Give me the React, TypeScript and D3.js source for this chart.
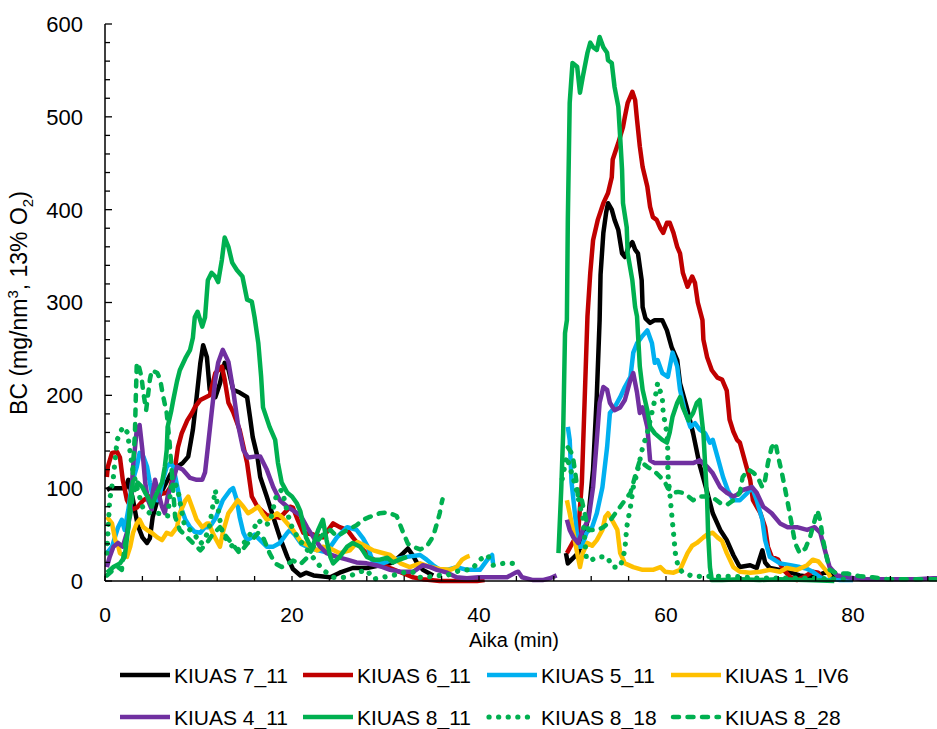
import React from 'react';
import * as d3 from 'd3';

type Pt = [number, number];

// ---- data: [time (min), BC (mg/nm3)] ----
const k7_11_a: Pt[] = [[0.2,98],[0.5,100],[1.5,100],[2.2,100],[2.5,109],[3.0,87],[3.5,60],[4.0,47],[4.5,41],[4.8,46],[5.1,69],[5.6,87],[6.3,101],[7.0,115],[7.7,123],[8.3,127],[8.9,134],[9.4,163],[9.8,198],[10.2,235],[10.5,254],[10.9,241],[11.2,206],[11.8,198],[12.3,213],[12.8,235],[13.2,228],[13.7,206],[14.4,203],[15.2,198],[15.5,177],[15.8,155],[16.3,134],[16.6,112],[17.3,91],[18.0,69],[18.7,47],[19.5,26],[20.1,13],[20.9,6],[21.5,9],[22.3,6],[24.1,4],[25.1,9],[26.5,14],[28.0,14],[29.4,17],[30.8,20],[31.9,30],[32.4,35],[32.9,28],[33.4,19],[34.0,12],[35.1,6]];
const k7_11_b: Pt[] = [[49.3,30],[49.5,19],[50.6,30],[51.1,44],[51.7,69],[52.2,120],[52.6,200],[52.9,281],[53.0,330],[53.3,375],[53.6,397],[53.8,407],[54.2,400],[54.5,389],[54.9,378],[55.3,353],[55.6,349],[56.0,360],[56.4,365],[56.7,357],[57.0,353],[57.4,324],[57.5,295],[57.8,283],[58.3,278],[58.8,281],[59.6,281],[60.1,270],[60.6,252],[61.2,238],[61.5,213],[62.3,184],[62.9,159],[63.6,125],[64.4,96],[65.0,73],[65.8,55],[66.5,44],[67.2,28],[67.9,15],[69.0,17],[69.7,14],[70.3,33],[70.6,20],[71.1,14],[72.2,12],[73.0,10],[74.3,6],[75.7,4],[77.2,10],[77.9,4],[79.0,2]];

const k6_11_a: Pt[] = [[0.2,112],[0.3,123],[0.75,138],[1.3,139],[1.6,133],[1.9,109],[2.35,87],[2.9,77],[3.4,79],[4.1,87],[4.8,91],[5.6,93],[6.6,95],[7.0,101],[7.5,123],[7.8,144],[8.2,159],[8.8,173],[9.3,181],[9.6,187],[10.2,195],[11.2,200],[11.8,224],[12.5,231],[12.8,217],[13.2,192],[13.7,182],[14.4,163],[15.2,127],[15.7,91],[16.3,80],[17.3,71],[18.7,68],[19.8,80],[20.1,79],[20.6,66],[21.2,52],[22.3,50],[23.3,47],[24.4,62],[25.1,58],[25.9,55],[26.5,47],[27.3,37],[28.3,26],[29.4,19],[30.5,14],[32.9,4],[34.0,2],[35.8,0],[37.9,0],[39.8,0],[40.6,1]];
const k6_11_b: Pt[] = [[49.4,30],[50.6,52],[51.0,106],[51.3,195],[51.6,285],[51.9,332],[52.2,367],[52.7,389],[53.3,407],[53.8,418],[54.2,435],[54.3,454],[54.9,472],[55.4,489],[55.6,500],[55.9,515],[56.4,527],[56.7,518],[56.9,497],[57.2,468],[57.5,446],[58.0,425],[58.3,403],[58.6,392],[59.0,389],[59.4,380],[59.7,375],[60.1,386],[60.4,386],[60.8,375],[61.2,360],[61.5,353],[61.8,332],[62.3,317],[62.8,328],[63.1,321],[63.4,300],[63.9,281],[64.0,260],[64.4,241],[64.9,227],[65.5,219],[66.0,217],[66.5,205],[66.8,174],[67.2,161],[67.6,152],[67.9,149],[68.5,127],[69.0,109],[69.3,87],[70.1,73],[70.6,58],[70.9,37],[71.3,26],[72.0,23],[72.5,13],[73.3,4],[74.0,1],[74.7,4],[75.7,10],[76.3,9],[76.7,1]];

const k5_11_a: Pt[] = [[0.2,30],[0.75,37],[1.4,58],[1.8,66],[2.1,55],[2.5,77],[2.9,106],[3.4,123],[3.7,138],[4.1,134],[4.5,123],[4.8,106],[5.1,91],[5.6,87],[5.9,95],[6.2,109],[6.6,123],[7.0,127],[7.3,123],[7.8,98],[8.2,77],[8.6,66],[9.1,58],[9.6,53],[10.2,52],[10.7,58],[11.2,58],[11.9,69],[12.6,87],[13.4,98],[13.7,100],[14.1,87],[14.4,69],[14.8,52],[15.2,44],[15.7,47],[16.0,50],[16.6,44],[17.3,37],[18.0,37],[18.7,41],[19.5,52],[19.8,55],[20.3,50],[21.0,40],[22.0,35],[23.7,31],[24.8,47],[25.9,58],[26.9,55],[27.6,46],[28.1,37],[28.7,19],[29.7,19],[30.8,23],[32.3,26],[33.7,28],[34.4,23],[35.1,17],[35.8,12],[36.6,12],[37.6,15],[38.7,12],[40.1,12],[40.9,23],[41.4,28],[41.5,19]];
const k5_11_b: Pt[] = [[49.5,166],[49.7,152],[49.9,106],[50.3,69],[50.6,37],[51.0,37],[51.5,52],[52.1,58],[52.6,73],[53.2,101],[53.7,144],[54.0,181],[54.5,187],[55.1,198],[55.6,209],[56.2,220],[56.5,246],[56.9,256],[57.4,263],[58.0,270],[58.5,256],[58.8,235],[59.1,238],[59.6,224],[60.2,220],[60.7,246],[61.2,231],[61.5,206],[62.0,184],[62.6,166],[63.1,170],[63.6,163],[64.2,159],[64.7,149],[65.0,152],[65.5,134],[66.1,112],[66.6,98],[67.2,87],[67.9,87],[68.7,95],[69.2,101],[69.7,87],[70.3,66],[70.6,44],[71.1,26],[72.2,19],[73.3,17],[74.3,15],[75.1,13],[75.7,10],[76.5,4],[77.2,1],[77.9,2],[78.6,1],[80.0,1]];

const k1_IV6_a: Pt[] = [[0.2,69],[0.75,62],[1.1,44],[1.4,38],[1.6,30],[2.35,26],[2.7,37],[3.0,52],[3.4,62],[3.7,66],[4.1,58],[4.5,55],[5.0,52],[5.6,47],[6.1,44],[6.6,52],[7.1,50],[7.7,58],[8.0,73],[8.6,87],[8.9,91],[9.3,80],[9.8,66],[10.4,58],[10.9,62],[11.1,62],[11.6,50],[12.3,37],[12.6,52],[13.2,73],[13.7,80],[14.2,87],[14.8,80],[15.3,73],[15.8,76],[16.4,80],[16.8,73],[17.3,66],[17.9,69],[18.4,73],[18.9,69],[19.5,62],[20.1,55],[20.9,43],[21.9,37],[22.7,33],[23.3,37],[24.1,35],[25.1,30],[26.2,33],[27.0,42],[27.6,39],[28.7,33],[29.4,31],[30.5,28],[31.6,19],[32.6,15],[33.7,19],[34.8,15],[35.8,13],[36.9,12],[37.6,15],[38.2,23],[38.7,26],[39.0,27]];
const k1_IV6_b: Pt[] = [[49.4,87],[49.7,73],[50.1,52],[50.5,30],[50.8,15],[51.1,30],[51.6,41],[52.1,38],[52.6,44],[53.2,55],[53.5,69],[53.8,73],[54.2,66],[54.8,55],[55.1,30],[55.6,19],[56.5,15],[57.5,12],[58.6,12],[59.4,15],[59.9,10],[60.8,9],[61.5,12],[62.3,30],[62.8,38],[63.3,41],[64.0,47],[64.4,50],[65.0,52],[65.5,47],[66.0,43],[66.5,30],[67.2,15],[67.9,10],[69.0,9],[70.1,10],[71.1,12],[72.2,10],[72.9,14],[74.0,12],[75.1,17],[75.7,23],[76.3,21],[76.8,15],[77.3,9],[77.6,4]];

const k4_11_a: Pt[] = [[0.2,15],[0.5,26],[0.9,37],[1.4,41],[1.9,37],[2.35,52],[2.7,73],[3.0,123],[3.4,163],[3.7,168],[4.0,141],[4.3,106],[4.6,87],[5.0,77],[5.1,95],[5.35,109],[5.7,95],[6.1,80],[6.4,73],[6.7,91],[7.2,106],[7.7,123],[8.3,120],[9.1,111],[9.8,109],[10.4,109],[10.7,117],[11.0,144],[11.4,181],[11.8,217],[12.1,235],[12.6,249],[13.2,236],[13.7,206],[14.2,170],[14.8,141],[15.3,133],[16.0,134],[16.6,134],[17.3,120],[18.0,101],[18.7,87],[19.5,80],[20.1,76],[20.9,71],[21.6,58],[22.3,47],[23.0,37],[23.7,30],[24.8,26],[25.9,23],[26.9,20],[28.0,19],[29.0,17],[29.7,15],[30.5,12],[31.6,10],[33.0,10],[34.0,17],[34.8,15],[35.5,12],[36.6,9],[37.6,4],[38.7,3],[40.0,4],[41.5,4],[43.0,4],[43.9,9],[44.2,10],[44.6,4],[45.8,1],[46.8,1],[47.6,3],[48.3,6]];
const k4_11_b: Pt[] = [[49.4,66],[49.7,55],[50.1,47],[50.6,41],[51.1,55],[51.7,66],[52.2,101],[52.6,152],[52.9,192],[53.3,209],[53.7,206],[54.0,192],[54.5,184],[55.1,187],[55.6,195],[56.2,217],[56.5,224],[56.9,203],[57.2,181],[57.5,187],[58.0,166],[58.3,130],[58.8,127],[60.1,127],[61.5,127],[62.9,127],[63.6,130],[64.4,123],[65.0,116],[65.8,101],[66.5,95],[67.2,91],[67.6,93],[68.2,98],[69.2,101],[69.7,95],[70.4,80],[71.3,73],[72.2,62],[73.0,58],[74.0,58],[75.1,55],[75.9,58],[76.5,52],[77.0,33],[77.5,15],[78.3,6],[79.4,4],[80.8,2],[82.1,2],[83.6,2],[85.0,2],[86.8,2],[88.6,3],[89.5,3]];

const k8_11_a: Pt[] = [[0.2,9],[0.9,15],[1.6,19],[2.1,26],[2.5,58],[2.7,87],[2.9,101],[3.2,98],[3.5,106],[4.0,101],[4.3,95],[4.6,90],[5.0,80],[5.35,90],[5.7,98],[6.1,106],[6.4,123],[6.6,141],[6.7,166],[7.1,184],[7.3,195],[7.7,215],[8.0,227],[8.6,240],[9.1,249],[9.4,262],[9.6,284],[9.9,290],[10.4,274],[10.7,284],[11.0,324],[11.4,332],[11.8,328],[12.1,322],[12.5,346],[12.8,370],[13.2,360],[13.6,343],[14.1,335],[14.7,328],[15.2,303],[15.7,301],[16.0,284],[16.4,256],[16.7,220],[16.9,187],[17.6,166],[18.2,152],[18.5,127],[18.9,106],[19.5,95],[20.0,91],[20.5,84],[20.9,75],[21.2,60],[21.5,47],[22.0,37],[22.3,40],[22.8,55],[23.3,66],[23.7,44],[24.1,26],[24.4,19],[25.1,26],[25.9,37],[26.5,41],[27.3,37],[28.0,26],[28.7,23],[29.4,23],[30.2,25],[30.8,20],[31.5,23],[32.3,26]];
const k8_11_b: Pt[] = [[48.5,30],[48.8,100],[49.0,159],[49.2,267],[49.4,281],[49.5,389],[49.7,515],[50.0,558],[50.5,554],[50.8,526],[51.1,543],[51.6,569],[51.9,580],[52.2,575],[52.6,572],[52.9,586],[53.3,575],[53.7,569],[53.8,561],[54.2,558],[54.5,532],[54.9,511],[55.1,478],[55.3,443],[55.4,407],[55.8,381],[55.9,353],[56.4,324],[56.7,295],[56.9,285],[57.2,231],[57.5,206],[58.0,184],[58.3,166],[58.8,159],[59.6,152],[60.1,149],[60.4,160],[60.7,177],[61.2,192],[61.5,198],[61.8,187],[62.4,173],[62.9,181],[63.3,192],[63.6,195],[64.0,159],[64.2,123],[64.4,87],[64.5,52],[64.7,15],[64.9,1],[66.0,1],[68.0,2],[70.0,1],[72.0,2],[75.0,1],[78.0,0]];

const k8_18_a: Pt[] = [[0.2,30],[0.5,87],[0.9,112],[1.3,152],[1.6,159],[1.9,166],[2.4,160],[2.9,123],[3.4,101],[4.1,77],[4.8,73],[5.6,73],[6.2,72],[6.7,70],[7.2,112],[7.8,98],[8.2,75],[8.5,60],[9.1,55],[9.6,50],[10.2,40],[10.7,45],[11.2,60],[11.8,98],[12.0,84],[12.3,65],[12.6,50],[13.4,40],[14.1,32],[14.8,40],[15.5,50],[16.0,58],[16.4,66],[16.9,60],[17.6,62],[18.4,95],[18.9,98],[19.2,87],[19.6,70],[20.1,55],[20.9,43],[22.2,26],[23.3,12],[24.4,4],[25.9,4],[27.0,9],[28.0,12],[28.7,2],[29.7,4],[30.8,6],[31.9,9],[32.9,10],[33.4,4],[34.4,4],[35.5,6],[36.6,6],[37.2,9],[38.2,12],[39.2,12],[40.1,23],[40.9,28],[41.5,17],[42.6,19],[44.1,19]];
const k8_18_b: Pt[] = [[48.9,110],[49.2,125],[49.4,134],[49.7,123],[50.1,110],[50.5,95],[50.8,80],[51.1,69],[51.5,23],[52.1,23],[52.7,26],[53.7,26],[54.3,15],[55.1,15],[55.6,33],[55.8,58],[56.2,80],[56.5,101],[56.9,116],[57.2,130],[57.5,144],[58.0,159],[58.3,173],[58.8,195],[59.1,213],[59.6,198],[59.7,181],[60.1,159],[60.2,138],[60.2,116],[60.4,95],[60.6,73],[60.8,52],[61.0,30],[61.3,15],[61.8,9],[62.9,5],[64.0,5],[65.0,5],[66.0,5],[67.2,5],[70.0,3],[73.0,3],[76.0,3],[79.0,2]];

const k8_28_a: Pt[] = [[0.2,6],[0.9,12],[1.4,15],[1.8,12],[2.1,37],[2.5,58],[2.9,87],[3.0,123],[3.2,159],[3.3,200],[3.4,235],[3.6,232],[3.9,220],[4.1,203],[4.4,184],[4.6,200],[4.8,217],[5.0,227],[5.6,224],[5.9,217],[6.2,200],[6.6,181],[6.9,150],[7.2,110],[7.5,69],[8.0,55],[8.8,47],[9.4,41],[10.2,33],[10.9,41],[11.5,50],[12.3,58],[12.8,50],[13.6,40],[14.4,30],[15.2,40],[15.8,45],[16.4,52],[17.0,45],[17.6,30],[18.2,19],[18.9,15],[19.5,18],[20.1,22],[20.9,18],[21.6,25],[22.5,40],[23.3,50],[24.1,55],[24.8,48],[25.9,55],[26.9,60],[27.6,66],[28.3,69],[29.4,73],[30.2,74],[31.2,70],[31.9,52],[32.4,40],[32.9,37],[33.7,34],[34.4,37],[35.1,48],[35.5,62],[35.8,73],[36.0,84],[36.1,88]];
const k8_28_b: Pt[] = [[49.5,144],[49.9,138],[50.1,130],[50.3,116],[50.5,101],[50.6,87],[51.0,87],[51.3,73],[51.7,55],[52.2,55],[52.7,55],[53.3,58],[53.8,62],[54.3,69],[55.1,80],[55.6,87],[56.2,95],[56.5,106],[56.9,120],[57.2,130],[57.5,127],[58.0,123],[58.5,120],[59.0,116],[59.4,112],[59.9,106],[60.2,100],[60.8,95],[61.3,96],[61.8,95],[62.4,91],[62.9,87],[63.6,91],[64.4,91],[65.0,90],[65.8,84],[66.5,82],[67.2,87],[67.9,95],[68.2,112],[68.8,120],[69.3,117],[69.8,112],[70.3,101],[70.6,109],[70.9,127],[71.3,144],[71.7,149],[72.0,134],[72.4,116],[72.7,101],[73.1,80],[73.5,58],[73.8,41],[74.3,30],[74.9,35],[75.4,47],[75.7,58],[76.2,76],[76.5,65],[76.8,44],[77.2,25],[77.5,12],[78.3,8],[79.4,8],[80.8,5],[82.1,4],[83.6,2],[85.0,2],[86.4,2],[88.6,2],[89.5,2]];

const seriesNames = ['KIUAS 7_11', 'KIUAS 6_11', 'KIUAS 5_11', 'KIUAS 1_IV6', 'KIUAS 4_11', 'KIUAS 8_11', 'KIUAS 8_18', 'KIUAS 8_28'];
const seriesData: Pt[][][] = [
  [k7_11_a, k7_11_b], [k6_11_a, k6_11_b], [k5_11_a, k5_11_b], [k1_IV6_a, k1_IV6_b],
  [k4_11_a, k4_11_b], [k8_11_a, k8_11_b], [k8_18_a, k8_18_b], [k8_28_a, k8_28_b],
];
const yTickLabels = [0, 100, 200, 300, 400, 500, 600];
const xTickLabels = [0, 20, 40, 60, 80];

// ---- styles ----
const colors = ['#000000', '#C00000', '#00B0F0', '#FFC000', '#7030A0', '#00B050', '#00B050', '#00B050'];
const dashes = ['', '', '', '', '', '', '0.1 9.5', '6 8.5'];
const FONT = '"Liberation Sans", Arial, sans-serif';

export default function App() {
  const W = 937, H = 729;
  const x = d3.scaleLinear().domain([0, 90]).range([105, 946.5]);
  const y = d3.scaleLinear().domain([0, 600]).range([581, 24]);
  const line = d3.line<Pt>().x(d => x(d[0])).y(d => y(d[1]));

  const yMinor = d3.range(0, 601, 20);
  const xMinor = d3.range(0, 90, 4);

  const legendX = [120, 303, 487, 671];
  const legendY = [675, 717];

  return (
    <svg width={W} height={H} style={{ position: 'absolute', left: 0, top: 0, background: '#fff' }} fontFamily={FONT}>
      <rect x={0} y={0} width={W} height={H} fill="#fff" />
      {/* series */}
      <g fill="none" strokeLinejoin="round">
        {seriesData.map((parts, i) =>
          parts.map((p, j) => (
            <path key={`${i}-${j}`} d={line(p) || ''} stroke={colors[i]} strokeWidth={dashes[i] === '0.1 9.5' ? 5.2 : 4.5}
              strokeDasharray={dashes[i] || undefined} strokeLinecap={dashes[i] ? 'round' : 'butt'} />
          ))
        )}
      </g>
      {/* axes */}
      <line x1={x(0)} x2={W} y1={y(0)} y2={y(0)} stroke="#000" strokeWidth={1.5} />
      <line x1={x(0)} x2={x(0)} y1={y(600)} y2={y(0)} stroke="#000" strokeWidth={1.5} />
      {yMinor.map(v => (
        <line key={`yt${v}`} x1={x(0)} x2={x(0) + (v % 100 === 0 ? 7 : 5)} y1={y(v)} y2={y(v)} stroke="#000" strokeWidth={1.3} />
      ))}
      {xMinor.map(t => (
        <line key={`xt${t}`} x1={x(t)} x2={x(t)} y1={y(0)} y2={y(0) - 5} stroke="#000" strokeWidth={1.3} />
      ))}
      {yTickLabels.map(v => (
        <text key={`yl${v}`} x={83} y={y(v)} dy="0.36em" textAnchor="end" fontSize={22} fill="#000">{v}</text>
      ))}
      {xTickLabels.map(t => (
        <text key={`xl${t}`} x={x(t)} y={622} textAnchor="middle" fontSize={21} fill="#000">{t}</text>
      ))}
      <text x={514} y={647} textAnchor="middle" fontSize={20} fill="#000">Aika (min)</text>
      <text transform={`translate(27,303) rotate(-90)`} textAnchor="middle" fontSize={23} fill="#000">
        BC (mg/nm<tspan dy={-9} fontSize={15}>3</tspan><tspan dy={9}>, 13% O</tspan><tspan dy={6} fontSize={15}>2</tspan><tspan dy={-6}>)</tspan>
      </text>
      {/* legend */}
      {seriesNames.map((name, i) => {
        const lx = legendX[i % 4];
        const ly = legendY[Math.floor(i / 4)];
        return (
          <g key={name}>
            <line x1={lx + (dashes[i] ? 2 : 0)} x2={lx + 50 - (dashes[i] ? 2 : 0)} y1={ly} y2={ly} stroke={colors[i]}
              strokeWidth={dashes[i] === '0.1 9.5' ? 5.2 : 4.5} strokeDasharray={dashes[i] || undefined}
              strokeLinecap={dashes[i] ? 'round' : 'butt'} />
            <text x={lx + 54} y={ly} dy="0.36em" fontSize={21} fill="#000">{name}</text>
          </g>
        );
      })}
    </svg>
  );
}
